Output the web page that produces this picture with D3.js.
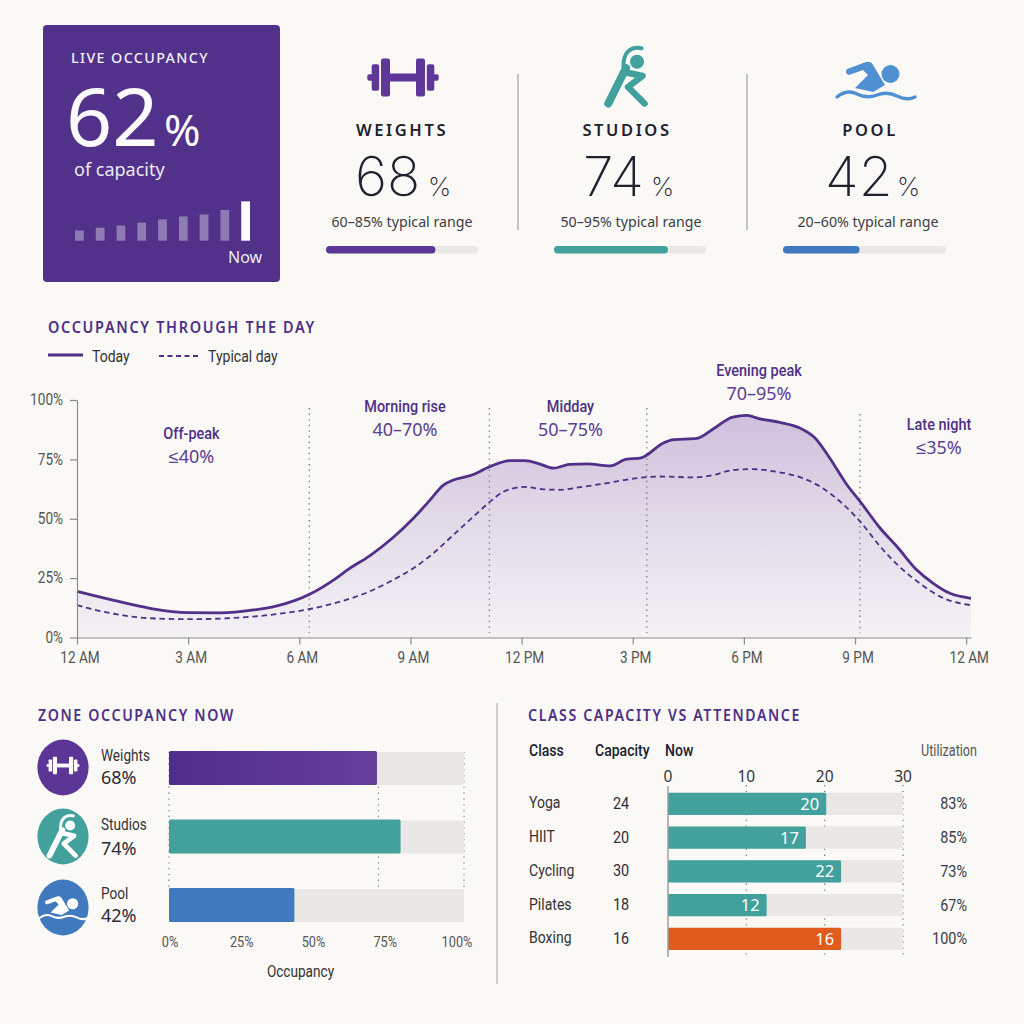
<!DOCTYPE html>
<html>
<head>
<meta charset="utf-8">
<script src="https://cdn.jsdelivr.net/npm/d3@7"></script>
<style>
  html, body { margin: 0; padding: 0; background: #faf9f6; }
  svg { display: block; }
  text { font-family: "Noto Sans", sans-serif; }
  .narrow { font-family: "Roboto", sans-serif; }
  .title { font-family: "Noto Sans", sans-serif; font-weight: 600; font-size: 16.5px; letter-spacing: 1.9px; fill: #4f2f88; }
  .big { font-family: "Inter", sans-serif; }
</style>
</head>
<body>
<svg id="chart" width="1024" height="1024"></svg>
<script>
const PURPLE = '#4f2f88';
const TEAL = '#43a19d';
const BLUE = '#4179bf';
const ORANGE = '#e05c1e';
const TRACK = '#e9e8e6';
const INK = '#20212e';
const GREY = '#555555';

// live card
const liveBars = [16, 20.5, 24, 28.5, 33.6, 38.3, 41.5, 48.4, 62];

// kpi row
const zones = ['Weights', 'Studios', 'Pool'];
const zoneNow = [68, 74, 42];
const zoneRanges = ['60–85% typical range', '50–95% typical range', '20–60% typical range'];
const kpiFill = [72, 75, 47];
const zoneBars = [70.5, 78.5, 42.5];
const zoneColors = [PURPLE, TEAL, BLUE];

// day curves
const todayHours = [0, 1, 2, 3, 3.87, 4.77, 5.4, 6.28, 7, 7.33, 7.9, 8.54, 9.08, 9.49, 9.89, 10.16, 10.66, 11.15, 11.69, 12.09, 12.5, 12.86, 13.3, 13.76, 14.39, 14.84, 15.2, 15.83, 16.1, 16.73, 17.17, 17.7, 18.08, 18.43, 18.97, 19.51, 19.92, 20.32, 20.78, 21.14, 21.68, 22.13, 22.67, 23.11, 23.56, 24.13];
const todayValues = [19.4, 15.6, 12.2, 10.5, 10.4, 11.6, 13.3, 18.2, 25, 28.8, 34.4, 42.2, 50.2, 57.2, 64.2, 66.3, 68.4, 72, 74.5, 74.5, 73, 71.3, 72.9, 73.1, 72.3, 75.1, 75.5, 81.9, 83.3, 83.8, 87.8, 92.8, 93.5, 92.1, 90.6, 88.2, 84, 75.5, 64.3, 57.2, 46, 38.3, 28.4, 22.8, 18.6, 16.5];
const typicalHours = [0, 0.99, 1.98, 3, 4.05, 5.2, 6.28, 7.1, 7.9, 8.45, 9.08, 9.62, 10.16, 10.7, 11.15, 11.51, 11.87, 12.08, 12.59, 13.04, 13.58, 14.3, 15.01, 15.74, 16.64, 17.17, 17.7, 18.25, 18.79, 19.51, 20.05, 20.6, 21.14, 21.68, 22.2, 22.75, 23.3, 24.13];
const typicalValues = [13.6, 10, 8.1, 7.7, 8.1, 9.5, 12, 15.1, 19.4, 23.6, 29.2, 35.5, 43.2, 50.9, 57.2, 61.4, 63.1, 63.4, 62.4, 62.2, 63.3, 65, 66.9, 67.8, 67.4, 68.4, 70.5, 70.9, 70, 67.5, 63.6, 57.2, 48.8, 38.3, 29.8, 22.8, 17.2, 13.6];
const hourTicks = [0, 3, 6, 9, 12, 15, 18, 21, 24];
const hourLabels = ['12 AM', '3 AM', '6 AM', '9 AM', '12 PM', '3 PM', '6 PM', '9 PM', '12 AM'];
const pctTicks = [0, 25, 50, 75, 100];
const phaseBreaks = [6.27, 11.13, 15.38, 21.13];
const phaseNames = ['Off-peak', 'Morning rise', 'Midday', 'Evening peak', 'Late night'];
const phaseRanges = ['≤40%', '40–70%', '50–75%', '70–95%', '≤35%'];

// class table
const classes = ['Yoga', 'HIIT', 'Cycling', 'Pilates', 'Boxing'];
const capacity = [24, 20, 30, 18, 16];
const attendance = [20, 17, 22, 12, 16];
const attendanceBars = [20.2, 17.6, 22.1, 12.6, 22.1];
const utilization = ['83%', '85%', '73%', '67%', '100%'];
const classTicks = [0, 10, 20, 30];

const svg = d3.select('#chart');
const defs = svg.append('defs');

svg.append('rect').attr('width', 1024).attr('height', 1024).attr('fill', '#faf9f6');

function label(parent, x, y, str, size, opts = {}) {
  const t = parent.append('text')
    .attr('x', x).attr('y', y)
    .attr('font-size', size)
    .attr('fill', opts.fill || INK)
    .attr('text-anchor', opts.anchor || 'start')
    .attr('font-weight', opts.weight || 400)
    .attr('letter-spacing', opts.spacing || null)
    .attr('class', opts.cls || null)
    .text(str);
  if (opts.width) t.attr('textLength', opts.width).attr('lengthAdjust', 'spacingAndGlyphs');
  return t;
}

// icons are drawn around 0,0 at roughly 72px wide
function dumbbell(g, color) {
  const parts = [[35.7, 3.3], [31.3, 13.3], [22, 19], [13, 3.8]];
  const widths = [6, 7.5, 9, 26];
  parts.forEach((p, i) => {
    [-1, 1].forEach(side => {
      const w = widths[i];
      const x = i === 3 ? -13 : (side < 0 ? -p[0] : p[0] - w);
      g.append('rect').attr('x', x).attr('y', -p[1])
        .attr('width', w).attr('height', p[1] * 2)
        .attr('rx', i === 3 ? 0 : 2).attr('fill', color);
    });
  });
}

function stretcher(g, color) {
  g.append('circle').attr('cx', 10).attr('cy', -15.3).attr('r', 7).attr('fill', color);
  g.append('path').attr('d', 'M14.5,-28.7 C4,-31 -4,-25 -3.5,-10')
    .attr('fill', 'none').attr('stroke', color).attr('stroke-width', 4).attr('stroke-linecap', 'round');
  g.append('path').attr('d', 'M-1,-9 L-18.7,26.5')
    .attr('fill', 'none').attr('stroke', color).attr('stroke-width', 8).attr('stroke-linecap', 'round');
  g.append('path').attr('d', 'M-3,-5 L15.5,-1 L1,10 L17.5,26.5')
    .attr('fill', 'none').attr('stroke', color).attr('stroke-width', 6.5).attr('stroke-linecap', 'round').attr('stroke-linejoin', 'round');
}

function swimmer(g, color) {
  g.append('circle').attr('cx', 15.5).attr('cy', -6).attr('r', 9).attr('fill', color);
  g.append('path').attr('d', 'M-28,-11 L-9,-18 Q-4,-19 -2,-15 L10,5 L-2,12 L-20,8 L-7,-5 L-12,-10 L-26,-5 Q-31,-7 -28,-11 Z').attr('fill', color);
  g.append('path').attr('d', 'M-38,17 Q-28,9 -18,14 T2,15 T22,16 T40,17')
    .attr('fill', 'none').attr('stroke', color).attr('stroke-width', 3.4).attr('stroke-linecap', 'round');
}
const icons = [dumbbell, stretcher, swimmer];

// ---- live card
const card = svg.append('g');
card.append('rect').attr('x', 43).attr('y', 25).attr('width', 237).attr('height', 257).attr('rx', 4).attr('fill', '#51318a');
label(card, 71, 63, 'LIVE OCCUPANCY', 14, { fill: '#f4f1f8', weight: 500, spacing: 1.35, width: 138 });
label(card, 66, 146, '62', 81, { fill: '#fbfafc' });
label(card, 164, 146, '%', 44, { fill: '#fbfafc' });
label(card, 74, 176, 'of capacity', 18, { fill: '#efeaf5' });
label(card, 228, 263, 'Now', 16, { fill: '#efeaf5' });

const liveX = d3.scaleBand().domain(d3.range(liveBars.length)).range([69, 256]).paddingInner(0.58).paddingOuter(0.29);
const liveH = d3.scaleLinear().domain([0, 62]).range([0, 39.3]);
card.selectAll('.live').data(liveBars).join('rect')
  .attr('class', 'live')
  .attr('x', (d, i) => liveX(i))
  .attr('y', d => 240.7 - liveH(d))
  .attr('width', liveX.bandwidth())
  .attr('height', d => liveH(d))
  .attr('fill', '#fff')
  .attr('fill-opacity', (d, i) => i === liveBars.length - 1 ? 1 : 0.36);

// ---- kpi row
const kpiCenters = [402, 627, 870];
const kpiTracks = [[326, 478], [554, 706], [783, 946]];
const kpiNumX = [355, 583, 825];
const kpiPctX = [428, 651, 897];
const kpiRangeX = [402, 631, 868];
zones.forEach((z, i) => {
  const g = svg.append('g');
  icons[i](g.append('g').attr('transform', `translate(${[403, 627, 875][i]},${[77.5, 77, 80][i]})`), i === 0 ? '#5e3799' : i === 2 ? '#4f90d2' : TEAL);
  label(g, kpiCenters[i], 136, z.toUpperCase(), 16.5, { anchor: 'middle', weight: 600, spacing: 2.6 });
  label(g, kpiNumX[i], 196, zoneNow[i], 55, { weight: 200, cls: 'big' });
  label(g, kpiPctX[i], 196, '%', 26, { weight: 200, cls: 'big' });
  label(g, kpiRangeX[i], 227, zoneRanges[i], 14, { anchor: 'middle', fill: '#3c3d46', width: 141 });
  const x = d3.scaleLinear().domain([0, 100]).range(kpiTracks[i]);
  g.append('rect').attr('x', x(0)).attr('y', 246).attr('width', x(100) - x(0)).attr('height', 7.5).attr('rx', 3.7).attr('fill', TRACK);
  g.append('rect').attr('x', x(0)).attr('y', 246).attr('width', x(kpiFill[i]) - x(0)).attr('height', 7.5).attr('rx', 3.7)
    .attr('fill', i === 0 ? '#5c3696' : i === 2 ? BLUE : TEAL);
});
[518, 747].forEach(x => {
  svg.append('line').attr('x1', x).attr('x2', x).attr('y1', 74).attr('y2', 230).attr('stroke', '#aeaeaa').attr('stroke-width', 1.4);
});

// ---- day chart
label(svg, 48, 333, 'OCCUPANCY THROUGH THE DAY', 16.5, { cls: 'title', width: 268 });
const legend = svg.append('g');
legend.append('line').attr('x1', 48).attr('x2', 83).attr('y1', 355).attr('y2', 355).attr('stroke', PURPLE).attr('stroke-width', 2.8);
label(legend, 92, 362, 'Today', 16.5, { cls: 'narrow', fill: '#333' });
legend.append('line').attr('x1', 159).attr('x2', 200).attr('y1', 356).attr('y2', 356).attr('stroke', PURPLE).attr('stroke-width', 1.8).attr('stroke-dasharray', '5 3.5');
label(legend, 208, 362, 'Typical day', 16.5, { cls: 'narrow', fill: '#333' });

const xHour = d3.scaleLinear().domain([0, 24.13]).range([77, 971]);
const yPct = d3.scaleLinear().domain([0, 100]).range([637.5, 400]);

const grad = defs.append('linearGradient').attr('id', 'dayFill').attr('x1', 0).attr('x2', 0).attr('y1', 0).attr('y2', 1);
grad.append('stop').attr('offset', '0%').attr('stop-color', '#cfc0dd');
grad.append('stop').attr('offset', '45%').attr('stop-color', '#e0d9e7');
grad.append('stop').attr('offset', '100%').attr('stop-color', '#f4f2f5');

const todayPts = todayHours.map((h, i) => [h, todayValues[i]]);
const typicalPts = typicalHours.map((h, i) => [h, typicalValues[i]]);

svg.append('path').datum(todayPts)
  .attr('d', d3.area().x(d => xHour(d[0])).y0(yPct(0)).y1(d => yPct(d[1])).curve(d3.curveMonotoneX))
  .attr('fill', 'url(#dayFill)');

svg.selectAll('.phase').data(phaseBreaks).join('line')
  .attr('class', 'phase')
  .attr('x1', d => xHour(d)).attr('x2', d => xHour(d))
  .attr('y1', (d, i) => i === 3 ? 414 : 408).attr('y2', 633)
  .attr('stroke', '#85828a').attr('stroke-width', 1.4).attr('stroke-dasharray', '1.4 4.2');

const line = d3.line().x(d => xHour(d[0])).y(d => yPct(d[1])).curve(d3.curveMonotoneX);
svg.append('path').datum(typicalPts).attr('d', line)
  .attr('fill', 'none').attr('stroke', PURPLE).attr('stroke-width', 1.8).attr('stroke-dasharray', '5.5 3.8');
svg.append('path').datum(todayPts).attr('d', line)
  .attr('fill', 'none').attr('stroke', '#523089').attr('stroke-width', 2.8);

const xAxis = svg.append('g').attr('transform', `translate(0,${yPct(0)})`)
  .call(d3.axisBottom(xHour).tickValues(hourTicks).tickFormat((d, i) => hourLabels[i]).tickSize(7).tickSizeOuter(0).tickPadding(7));
const yAxis = svg.append('g').attr('transform', `translate(${xHour(0)},0)`)
  .call(d3.axisLeft(yPct).tickValues(pctTicks).tickFormat(d => d + '%').tickSize(7).tickSizeOuter(0).tickPadding(7));
[xAxis, yAxis].forEach(a => {
  a.selectAll('path,line').attr('stroke', '#8c8c8c').attr('stroke-width', 1.2);
  a.selectAll('text').attr('class', 'narrow').attr('font-size', 16).attr('fill', GREY);
});
xAxis.selectAll('text').attr('dx', 2.5);
yAxis.selectAll('text').attr('dy', '0.3em');

const phaseX = [191.5, 405, 570.5, 759, 939];
const phaseY = [439, 412, 412, 376, 430];
phaseNames.forEach((n, i) => {
  label(svg, phaseX[i], phaseY[i], n, 17, { anchor: 'middle', cls: 'narrow', fill: PURPLE, weight: 500 });
  label(svg, phaseX[i], phaseY[i] + 24, phaseRanges[i], 18, { anchor: 'middle', fill: '#5a3d94' });
});

// ---- zone bars
label(svg, 38, 721, 'ZONE OCCUPANCY NOW', 16.5, { cls: 'title', width: 197 });
const xZone = d3.scaleLinear().domain([0, 100]).range([169, 464]);
const xZoneLabel = d3.scaleLinear().domain([0, 100]).range([170, 457]);
const yZone = d3.scaleBand().domain(zones).range([751, 923]).paddingInner(0.99).paddingOuter(0);
const zoneStep = 68.5, zoneH = 34;
const zoneY = i => yZone.range()[0] + zoneStep * i;

const zoneGrad = defs.append('linearGradient').attr('id', 'weightsFill');
zoneGrad.append('stop').attr('offset', '0%').attr('stop-color', '#4e2f88');
zoneGrad.append('stop').attr('offset', '100%').attr('stop-color', '#673f9a');

[0, 71, 100].forEach(t => {
  svg.append('line').attr('x1', xZone(t)).attr('x2', xZone(t)).attr('y1', 752).attr('y2', 890)
    .attr('stroke', '#85828a').attr('stroke-width', 1.2).attr('stroke-dasharray', '1.3 4.5');
});
svg.selectAll('.ztrack').data(zones).join('rect').attr('class', 'ztrack')
  .attr('x', xZone(0)).attr('y', (d, i) => zoneY(i) + 1).attr('width', xZone(100) - xZone(0)).attr('height', zoneH - 1).attr('fill', TRACK);
svg.selectAll('.zbar').data(zoneBars).join('rect').attr('class', 'zbar')
  .attr('x', xZone(0)).attr('y', (d, i) => zoneY(i)).attr('width', d => xZone(d) - xZone(0)).attr('height', zoneH).attr('rx', 1.5)
  .attr('fill', (d, i) => i === 0 ? 'url(#weightsFill)' : zoneColors[i]);

const zoneLabelY = [761, 830, 899];
const zonePctY = [784, 855, 922];
zones.forEach((z, i) => {
  const cy = [767.5, 836.5, 907.5][i];
  svg.append('ellipse').attr('cx', 63).attr('cy', cy).attr('rx', 25.6).attr('ry', 28).attr('fill', i === 0 ? '#5c3696' : zoneColors[i]);
  const s = [0.46, 0.72, 0.62][i];
  icons[i](svg.append('g').attr('transform', `translate(63,${cy - [2, 0, 0][i]}) scale(${s})`), '#fff');
  label(svg, 101, zoneLabelY[i], z, 16, { cls: 'narrow', fill: '#333' });
  label(svg, 101, zonePctY[i], zoneNow[i] + '%', 18, { fill: '#2c2d36' });
});
svg.selectAll('.zt').data(pctTicks).join('text').attr('class', 'zt narrow')
  .attr('x', d => xZoneLabel(d)).attr('y', 947).attr('text-anchor', 'middle')
  .attr('font-size', 15).attr('fill', GREY).text(d => d + '%');
label(svg, 300.5, 977, 'Occupancy', 16, { anchor: 'middle', cls: 'narrow', fill: '#333' });

svg.append('line').attr('x1', 497).attr('x2', 497).attr('y1', 703).attr('y2', 984).attr('stroke', '#b5b5b1').attr('stroke-width', 1.2);

// ---- class table
label(svg, 528, 721, 'CLASS CAPACITY VS ATTENDANCE', 16.5, { cls: 'title', width: 273 });
label(svg, 529, 756, 'Class', 16.5, { cls: 'narrow', weight: 500 });
label(svg, 595, 756, 'Capacity', 16.5, { cls: 'narrow', weight: 500 });
label(svg, 665, 756, 'Now', 16.5, { cls: 'narrow', weight: 500 });
label(svg, 921, 756, 'Utilization', 16, { cls: 'narrow', fill: GREY, width: 56 });

const xClass = d3.scaleLinear().domain([0, 30]).range([668, 903]);
const yClass = d3.scaleBand().domain(classes).range([787, 955.7]).paddingInner(0.34).paddingOuter(0.17);

svg.selectAll('.cgrid').data(classTicks.slice(1)).join('line').attr('class', 'cgrid')
  .attr('x1', d => xClass(d)).attr('x2', d => xClass(d)).attr('y1', 785).attr('y2', 956)
  .attr('stroke', '#85828a').attr('stroke-width', 1.3).attr('stroke-dasharray', '1.3 4.5');
svg.selectAll('.ctick').data(classTicks).join('text').attr('class', 'ctick')
  .attr('x', d => xClass(d)).attr('y', 782).attr('text-anchor', 'middle')
  .attr('font-size', 15.5).attr('fill', '#33343c').text(d => d);
svg.selectAll('.ctrack').data(classes).join('rect').attr('class', 'ctrack')
  .attr('x', xClass(0)).attr('y', d => yClass(d)).attr('width', xClass(30) - xClass(0)).attr('height', yClass.bandwidth()).attr('fill', TRACK);
svg.selectAll('.cbar').data(attendanceBars).join('rect').attr('class', 'cbar')
  .attr('x', xClass(0)).attr('y', (d, i) => yClass(classes[i])).attr('width', d => xClass(d) - xClass(0))
  .attr('height', yClass.bandwidth()).attr('rx', 1.5)
  .attr('fill', (d, i) => classes[i] === 'Boxing' ? ORANGE : TEAL);
svg.append('line').attr('x1', xClass(0)).attr('x2', xClass(0)).attr('y1', 786).attr('y2', 957).attr('stroke', '#9a9a9a').attr('stroke-width', 1.4);

classes.forEach((c, i) => {
  const mid = yClass(c) + yClass.bandwidth() / 2;
  label(svg, 529, mid + 4.5, c, 16.5, { cls: 'narrow', fill: '#333' });
  label(svg, 621, mid + 5, capacity[i], 17, { anchor: 'middle', cls: 'narrow', fill: '#2c2d36' });
  label(svg, xClass(attendanceBars[i]) - 7, mid + 6, attendance[i], 16.5, { anchor: 'end', fill: '#fff' });
  label(svg, 967, mid + 5.5, utilization[i], 17, { anchor: 'end', cls: 'narrow', fill: '#3c3d46' });
});

// no condensed face is installed, so squeeze the narrow labels to the reference's width
svg.selectAll('text.narrow').each(function () {
  if (!this.getAttribute('textLength')) {
    this.setAttribute('textLength', this.getComputedTextLength() * 0.85);
    this.setAttribute('lengthAdjust', 'spacingAndGlyphs');
  }
});
</script>
</body>
</html>
